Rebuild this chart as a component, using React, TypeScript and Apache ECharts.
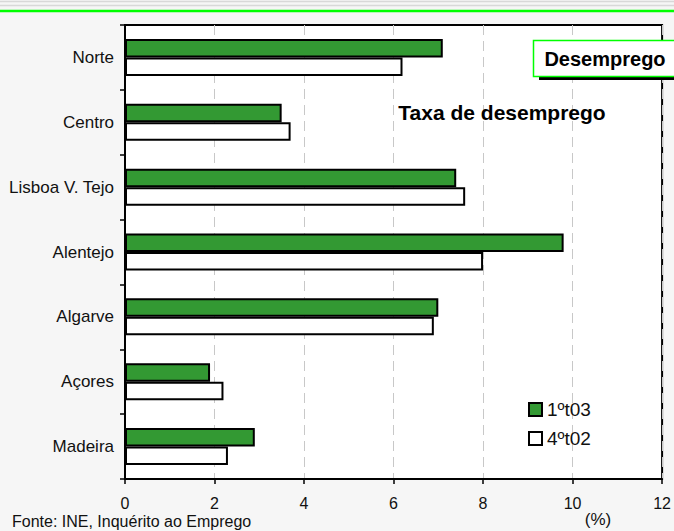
import React, { useEffect, useRef } from "react";
import * as echarts from "echarts";

const regions = ["Norte", "Centro", "Lisboa V. Tejo", "Alentejo", "Algarve", "Açores", "Madeira"];
const seriesNames = ["1ºt03", "4ºt02"];
const values1t03 = [7.1, 3.5, 7.4, 9.8, 7.0, 1.9, 2.9];
const values4t02 = [6.2, 3.7, 7.6, 8.0, 6.9, 2.2, 2.3];
const xTicks = { min: 0, max: 12, interval: 2 };
const chartTitle = "Taxa de desemprego";
const boxTitle = "Desemprego";
const sourceText = "Fonte: INE, Inquérito ao Emprego";
const unitText = "(%)";

const FONT = "'Liberation Sans', Arial, sans-serif";

export default function App() {
  const ref = useRef<HTMLDivElement>(null);
  useEffect(() => {
    document.body.style.margin = "0";
    const chart = echarts.init(ref.current!, null, { renderer: "svg" });
    chart.setOption({
      animation: false,
      backgroundColor: "#f6f6f6",
      textStyle: { fontFamily: FONT },
      grid: {
        left: 125,
        right: 11,
        top: 25,
        bottom: 52,
        show: true,
        backgroundColor: "#ffffff",
        borderColor: "#000000",
        borderWidth: 2,
      },
      legend: {
        orient: "vertical",
        left: 523,
        top: 395,
        itemWidth: 13,
        itemHeight: 13,
        itemGap: 10,
        icon: "rect",
        textStyle: { fontSize: 19, color: "#111", fontFamily: FONT },
        data: seriesNames,
      },
      xAxis: {
        type: "value",
        min: xTicks.min,
        max: xTicks.max,
        interval: xTicks.interval,
        axisLine: { show: true, lineStyle: { color: "#000", width: 2 } },
        axisTick: { show: true, length: 5, lineStyle: { color: "#000", width: 1.5 } },
        axisLabel: { fontSize: 16, color: "#111", margin: 16, fontFamily: FONT },
        splitLine: { show: true, lineStyle: { color: "#c8c8c8", type: [10, 6], width: 1 } },
      },
      yAxis: {
        type: "category",
        data: regions,
        inverse: true,
        axisLine: { show: true, lineStyle: { color: "#000", width: 2 } },
        axisTick: { show: true, length: 5, lineStyle: { color: "#000", width: 1.5 } },
        axisLabel: { fontSize: 17, color: "#111", margin: 11, fontFamily: FONT },
      },
      series: [
        {
          name: seriesNames[0],
          type: "bar",
          data: values1t03,
          barWidth: 18.5,
          barGap: "0%",
          itemStyle: { color: "#339933", borderColor: "#000", borderWidth: 2 },
        },
        {
          name: seriesNames[1],
          type: "bar",
          data: values4t02,
          barWidth: 18.5,
          barGap: "0%",
          itemStyle: { color: "#ffffff", borderColor: "#000", borderWidth: 2 },
        },
      ],
      graphic: [
        { type: "line", shape: { x1: 0, y1: 1.5, x2: 674, y2: 1.5 }, style: { stroke: "#d8d8d8", lineWidth: 1.5 } },
        { type: "line", shape: { x1: 0, y1: 5.5, x2: 674, y2: 5.5 }, style: { stroke: "#d8d8d8", lineWidth: 1.5 } },
        { type: "line", shape: { x1: 0, y1: 11, x2: 674, y2: 11 }, style: { stroke: "#00ff00", lineWidth: 2.5 } },
        { type: "rect", shape: { x: 539, y: 44, width: 150, height: 36 }, style: { fill: "#000" }, z: 100 },
        { type: "rect", shape: { x: 533.5, y: 40.5, width: 150, height: 36 }, style: { fill: "#fff", stroke: "#00ff00", lineWidth: 1.5 }, z: 101 },
        {
          type: "text",
          x: 605,
          y: 59,
          z: 102,
          style: { text: boxTitle, font: "bold 20px " + FONT, fill: "#000", verticalAlign: "middle", align: "center" },
        },
        {
          type: "text",
          x: 502,
          y: 112,
          z: 102,
          style: { text: chartTitle, font: "bold 21px " + FONT, fill: "#000", verticalAlign: "middle", align: "center" },
        },
        {
          type: "text",
          x: 598,
          y: 519,
          z: 102,
          style: { text: unitText, font: "17px " + FONT, fill: "#111", verticalAlign: "middle", align: "center" },
        },
        {
          type: "text",
          x: 12,
          y: 521,
          z: 102,
          style: { text: sourceText, font: "16px " + FONT, fill: "#111", verticalAlign: "middle", align: "left" },
        },
      ],
    });
    return () => chart.dispose();
  }, []);
  return <div ref={ref} style={{ width: 674, height: 531 }} />;
}
